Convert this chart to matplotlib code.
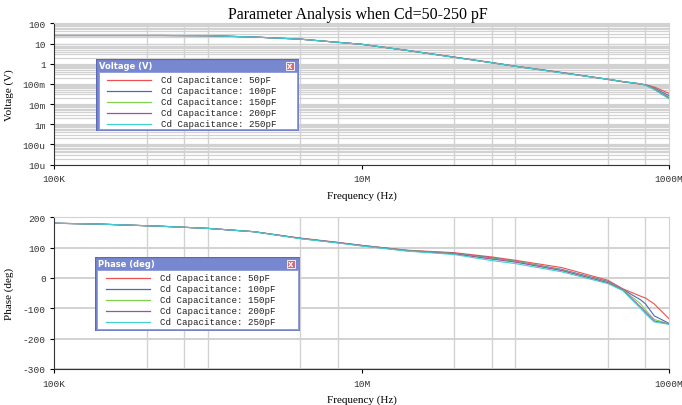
import numpy as np
import matplotlib
matplotlib.use("Agg")
import matplotlib.pyplot as plt
from matplotlib.patches import Rectangle
from matplotlib.ticker import FixedLocator, NullFormatter

# frequency points (Hz)
freq_hz = [1e5, 2e5, 5e5, 1e6, 2e6, 4e6, 7e6, 1e7, 2e7, 4e7, 7e7, 1e8,
           2e8, 4e8, 5e8, 6.5e8, 7e8, 8e8, 1e9]

series_labels = ["Cd Capacitance: 50pF", "Cd Capacitance: 100pF",
                 "Cd Capacitance: 150pF", "Cd Capacitance: 200pF",
                 "Cd Capacitance: 250pF"]
series_colors = ["#f05050", "#4a68c0", "#80d050", "#a050a8", "#40d0d0"]

# voltage (V)
volt_50 = [25, 25, 25, 24.5, 21, 16.5, 11.5, 9.2, 4.5, 2.15, 1.15, 0.76, 0.37, 0.165, 0.125, 0.098, 0.092, 0.070, 0.034]
volt_100 = [25, 25, 25, 24.5, 21, 16.5, 11.5, 9.2, 4.5, 2.1, 1.13, 0.75, 0.36, 0.17, 0.13, 0.100, 0.090, 0.062, 0.026]
volt_150 = [25, 25, 25, 24.5, 21, 16.5, 11.5, 9.2, 4.5, 2.1, 1.13, 0.75, 0.36, 0.17, 0.13, 0.100, 0.088, 0.058, 0.022]
volt_200 = [25, 25, 25, 24.5, 21, 16.5, 11.5, 9.2, 4.5, 2.1, 1.12, 0.74, 0.36, 0.17, 0.13, 0.101, 0.087, 0.055, 0.020]
volt_250 = [25, 25, 25, 24.5, 21, 16.5, 11.5, 9.2, 4.5, 2.05, 1.12, 0.74, 0.35, 0.17, 0.13, 0.102, 0.086, 0.052, 0.018]

# phase (deg)
phase_50 = [180, 177, 170, 163, 152, 131, 117, 107, 91, 83, 69, 58, 34, -8, -36, -60, -66, -86, -135]
phase_100 = [180, 177, 170, 163, 152, 130, 116, 107, 90, 81, 66, 55, 28, -12, -38, -72, -85, -125, -150]
phase_150 = [180, 177, 170, 163, 152, 130, 116, 106, 90, 80, 64, 54, 26, -14, -39, -85, -105, -137, -151]
phase_200 = [180, 177, 170, 163, 152, 130, 116, 106, 89, 79, 62, 52, 24, -16, -40, -95, -112, -142, -152]
phase_250 = [180, 177, 170, 163, 152, 129, 115, 105, 88, 77, 57, 47, 20, -19, -42, -100, -118, -145, -153]

volt_series = [volt_50, volt_100, volt_150, volt_200, volt_250]
phase_series = [phase_50, phase_100, phase_150, phase_200, phase_250]

x_ticks = [1e5, 1e7, 1e9]
x_ticklabels = ["100K", "10M", "1000M"]
volt_ticks = [1e2, 1e1, 1e0, 1e-1, 1e-2, 1e-3, 1e-4, 1e-5]
volt_ticklabels = ["100", "10", "1", "100m", "10m", "1m", "100u", "10u"]
phase_ticks = [200, 100, 0, -100, -200, -300]

grid_col = "#d2d2d2"
mono = "Liberation Mono"
serif = "Liberation Serif"

fig = plt.figure(figsize=(6.82, 4.06), dpi=100)
ax1 = fig.add_axes([0.0792, 0.592, 0.902, 0.348])
ax2 = fig.add_axes([0.0792, 0.0887, 0.902, 0.374])

# vertical grid lines at 1, 4, 7 of each decade
vgrid = [m * 10.0 ** e for e in range(5, 9) for m in (1, 4, 7)] + [1e9]


def style_axes(ax, ylabel):
    ax.set_xscale("log")
    ax.set_xlim(1e5, 1e9)
    ax.xaxis.set_major_locator(FixedLocator(x_ticks))
    ax.set_xticklabels(x_ticklabels, fontfamily=mono, fontsize=6.8, color="#333333")
    ax.xaxis.set_minor_locator(FixedLocator(vgrid))
    ax.xaxis.set_minor_formatter(NullFormatter())
    ax.tick_params(axis="x", which="minor", length=0)
    ax.tick_params(axis="both", which="major", length=3, width=0.8)
    ax.tick_params(axis="x", which="major", pad=4)
    ax.grid(True, axis="x", which="minor", color=grid_col, lw=1.0)
    for s in ("top", "right"):
        ax.spines[s].set_color(grid_col)
    for s in ("left", "bottom"):
        ax.spines[s].set_color("#333333")
    ax.set_xlabel("Frequency (Hz)", fontfamily=serif, fontsize=8, labelpad=5)
    ax.set_ylabel(ylabel, fontfamily=serif, fontsize=8, labelpad=6)
    ax.set_axisbelow(True)


# voltage plot
for vals, col in zip(volt_series, series_colors):
    ax1.plot(freq_hz, vals, color=col, lw=0.8)
style_axes(ax1, "Voltage (V)")
ax1.set_yscale("log")
ax1.set_ylim(1e-5, 1e2)
ax1.yaxis.set_major_locator(FixedLocator(volt_ticks))
ax1.set_yticklabels(volt_ticklabels, fontfamily=mono, fontsize=6.8, color="#333333")
ax1.yaxis.set_minor_locator(FixedLocator(
    [m * 10.0 ** e for e in range(-5, 2) for m in range(2, 10)]))
ax1.yaxis.set_minor_formatter(NullFormatter())
ax1.tick_params(axis="y", which="minor", length=0)
ax1.grid(True, axis="y", which="both", color=grid_col, lw=0.9)
ax1.tick_params(axis="y", which="major", pad=3)

# phase plot
for vals, col in zip(phase_series, series_colors):
    ax2.plot(freq_hz, vals, color=col, lw=0.8)
style_axes(ax2, "Phase (deg)")
ax2.set_ylim(-300, 200)
ax2.yaxis.set_major_locator(FixedLocator(phase_ticks))
ax2.set_yticklabels([str(t) for t in phase_ticks], fontfamily=mono, fontsize=6.8, color="#333333")
ax2.grid(True, axis="y", which="major", color=grid_col, lw=1.4)
ax2.tick_params(axis="y", which="major", pad=3)

fig.text(0.525, 0.963, "Parameter Analysis when Cd=50-250 pF",
         ha="center", va="center", fontfamily=serif, fontsize=11.5)


def legend_box(rect, title, w_px, h_px):
    lg = fig.add_axes(rect)
    lg.set_xlim(0, w_px)
    lg.set_ylim(h_px, 0)
    lg.axis("off")
    lg.add_patch(Rectangle((0, 0), w_px, h_px, facecolor="#7888d0",
                           edgecolor="#5a6ab8", lw=1.0))
    lg.add_patch(Rectangle((2.5, 13), w_px - 5, h_px - 15.5,
                           facecolor="white", edgecolor="#8a98d8", lw=0.6))
    lg.text(3, 6.8, title, color="white", fontsize=6, fontweight="bold",
            fontfamily="DejaVu Sans", va="center", ha="left")
    lg.add_patch(Rectangle((w_px - 13, 2.5), 8, 8, facecolor="#d86878",
                           edgecolor="white", lw=0.6))
    lg.text(w_px - 9, 6.7, "x", color="white", fontsize=6, fontweight="bold",
            ha="center", va="center", fontfamily="DejaVu Sans")
    for i, (lab, col) in enumerate(zip(series_labels, series_colors)):
        yy = 20.5 + 11 * i
        lg.plot([11, 55], [yy, yy], color=col, lw=0.9)
        lg.text(65, yy, lab, fontfamily=mono, fontsize=6.6, va="center",
                ha="left", color="#222222")


legend_box([96 / 682, 1 - 132 / 406, 203 / 682, 72 / 406], "Voltage (V)", 203, 72)
legend_box([95 / 682, 1 - 332 / 406, 205 / 682, 74 / 406], "Phase (deg)", 205, 74)

fig.savefig("out.png", dpi=100)
